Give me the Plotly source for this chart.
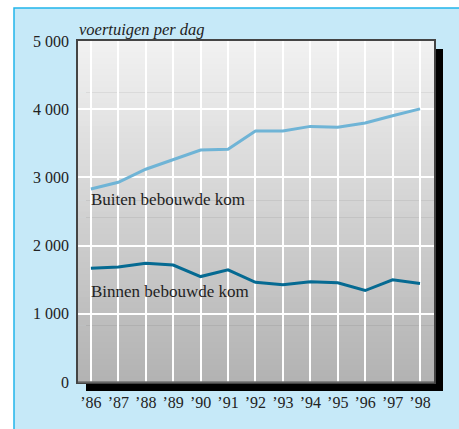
import plotly.graph_objects as go

years = [86, 87, 88, 89, 90, 91, 92, 93, 94, 95, 96, 97, 98]
year_labels = ["’86", "’87", "’88", "’89", "’90", "’91", "’92", "’93", "’94", "’95", "’96", "’97", "’98"]
buiten = [2830, 2928, 3120, 3265, 3401, 3411, 3679, 3682, 3748, 3735, 3798, 3905, 4005]
binnen = [1669, 1686, 1742, 1715, 1546, 1644, 1462, 1425, 1469, 1454, 1341, 1498, 1444]
y_ticks = [0, 1000, 2000, 3000, 4000, 5000]
y_tick_labels = ["0", "1 000", "2 000", "3 000", "4 000", "5 000"]

W, H = 459, 429
L, R, T, B = 78, 25, 41, 47
pw, ph = W - L - R, H - T - B

def px_x(p):
    return (p - L) / pw

def px_y(p):
    return (H - B - p) / ph

FONT = "Liberation Serif"

fig = go.Figure()
fig.add_trace(go.Scatter(x=years, y=buiten, mode="lines",
                         line=dict(color="#6fb4d6", width=3), hoverinfo="skip"))
fig.add_trace(go.Scatter(x=years, y=binnen, mode="lines",
                         line=dict(color="#056a92", width=3), hoverinfo="skip"))

shapes = []
# outer light-blue frame
shapes.append(dict(type="rect", xref="paper", yref="paper", layer="below",
                   x0=px_x(14), x1=px_x(480), y0=px_y(450), y1=px_y(8),
                   fillcolor="#c6e9f8", line=dict(color="#22b5ea", width=1.5)))
# black drop shadow
shapes.append(dict(type="rect", xref="paper", yref="paper", layer="below",
                   x0=px_x(L + 8), x1=px_x(L + pw + 9), y0=px_y(H - B + 9), y1=px_y(T + 8),
                   fillcolor="black", line=dict(width=0)))
# vertical gradient in plot area
n = 60
top = (242, 242, 242)
bot = (178, 178, 178)
for i in range(n):
    f = (i + 0.5) / n
    c = tuple(round(top[k] + (bot[k] - top[k]) * f) for k in range(3))
    shapes.append(dict(type="rect", xref="paper", yref="paper", layer="below",
                       x0=0, x1=1, y0=max(0, 1 - (i + 1) / n - 0.002), y1=1 - i / n,
                       fillcolor="rgb(%d,%d,%d)" % c, line=dict(width=0)))
# lighter bottom border
shapes.append(dict(type="line", xref="paper", yref="paper", layer="above",
                   x0=0, x1=1, y0=0, y1=0, line=dict(color="#707070", width=1.5)))

annotations = [
    dict(text="voertuigen per dag", xref="paper", yref="paper", x=px_x(77), y=1.0,
         xanchor="left", yanchor="bottom", showarrow=False, yshift=0,
         font=dict(family=FONT, size=16.5, color="#222", style="italic")),
    dict(text="Buiten bebouwde kom", x=86, y=2670, xref="x", yref="y",
         xanchor="left", yanchor="middle", showarrow=False, xshift=-2,
         font=dict(family=FONT, size=17, color="#222")),
    dict(text="Binnen bebouwde kom", x=86, y=1322, xref="x", yref="y",
         xanchor="left", yanchor="middle", showarrow=False, xshift=-2,
         font=dict(family=FONT, size=17, color="#222")),
]

fig.update_layout(
    width=W, height=H,
    margin=dict(l=L, r=R, t=T, b=B, pad=0, autoexpand=False),
    paper_bgcolor="white",
    plot_bgcolor="#dddddd",
    showlegend=False,
    shapes=shapes,
    annotations=annotations,
    xaxis=dict(range=[85.53, 98.51], tickvals=years, ticktext=year_labels,
               showgrid=True, gridcolor="white", gridwidth=1.5,
               showline=True, linecolor="#444", linewidth=1.5, mirror=True,
               ticks="", ticklabelstandoff=5, zeroline=False, automargin=False,
               tickfont=dict(family=FONT, size=16, color="#222")),
    yaxis=dict(range=[0, 5000], tickvals=y_ticks, ticktext=y_tick_labels,
               showgrid=True, gridcolor="white", gridwidth=1.5,
               showline=True, linecolor="#444", linewidth=1.5, mirror=True,
               ticks="", ticklabelstandoff=4, zeroline=False, automargin=False,
               tickfont=dict(family=FONT, size=16, color="#222")),
)

fig.write_html("out.html", config={"displayModeBar": False},
               post_script="document.body.style.margin='0';document.body.style.padding='0';")
